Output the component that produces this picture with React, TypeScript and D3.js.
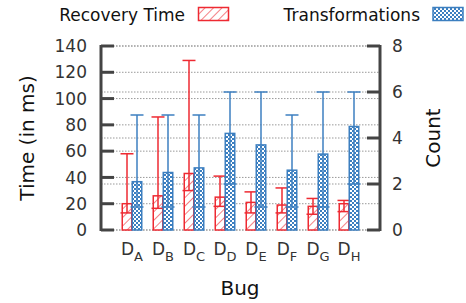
import React from "react";
import * as d3 from "d3";

const bugs = ["A", "B", "C", "D", "E", "F", "G", "H"];
// recovery time (ms): mean, low, high
const recMean = [20, 26, 43, 25, 21, 19, 18, 20];
const recLow = [13, 16.5, 30, 18, 13, 13, 12, 14];
const recHigh = [58, 86, 129, 41, 29, 32, 24, 22.5];
// transformations (count): mean, low, high
const trMean = [2.1, 2.5, 2.7, 4.2, 3.7, 2.6, 3.3, 4.5];
const trLow = [1, 1, 1, 2, 1, 1, 1, 2];
const trHigh = [5, 5, 5, 6, 6, 5, 6, 6];
const leftTicks = [0, 20, 40, 60, 80, 100, 120, 140];
const rightTicks = [0, 2, 4, 6, 8];

const RED = "#ee2a32";
const BLUE = "#3c7fc0";
const FONT = "DejaVu Sans, sans-serif";

const App = () => {
  const W = 466;
  const H = 303;
  const left = 101;
  const right = 380;
  const top = 46;
  const bottom = 230;

  const x = d3.scaleLinear().domain([0, bugs.length + 1]).range([left, right]);
  const yL = d3.scaleLinear().domain([0, 140]).range([bottom, top]);
  const yR = d3.scaleLinear().domain([0, 8]).range([bottom, top]);
  const bw = 9.5;
  const cap = 13;

  const bar = (cx, y0, y1, lo, hi, color, fill, key) => (
    <g key={key}>
      <rect x={cx - bw / 2} y={y1} width={bw} height={y0 - y1} fill={fill} stroke={color} strokeWidth={1.5} />
      <line x1={cx} x2={cx} y1={lo} y2={hi} stroke={color} strokeWidth={1.5} />
      <line x1={cx - cap / 2} x2={cx + cap / 2} y1={hi} y2={hi} stroke={color} strokeWidth={1.5} />
      <line x1={cx - cap / 2} x2={cx + cap / 2} y1={lo} y2={lo} stroke={color} strokeWidth={1.5} />
    </g>
  );

  return (
    <svg width={W} height={H} style={{ position: "absolute", left: 0, top: 0 }} fontFamily={FONT}>
      <defs>
        <pattern id="hatch" patternUnits="userSpaceOnUse" width={6} height={6} patternTransform="rotate(45)">
          <rect width={6} height={6} fill="white" />
          <line x1={0} y1={0} x2={0} y2={6} stroke={RED} strokeWidth={1.2} />
        </pattern>
        <pattern id="cross" patternUnits="userSpaceOnUse" width={4} height={4}>
          <rect width={4} height={4} fill={BLUE} />
          <rect x={0} y={0} width={2} height={2} fill="white" />
          <rect x={2} y={2} width={2} height={2} fill="white" />
        </pattern>
      </defs>
      <rect width={W} height={H} fill="white" />

      {/* grid */}
      {leftTicks.map(t => (
        <line key={"gl" + t} x1={left} x2={right} y1={yL(t)} y2={yL(t)} stroke="#999" strokeWidth={1} strokeDasharray="1.5,1.5" />
      ))}
      {rightTicks.map(t => (
        <line key={"gr" + t} x1={left} x2={right} y1={yR(t)} y2={yR(t)} stroke="#999" strokeWidth={1} strokeDasharray="1.5,1.5" />
      ))}

      {/* bars */}
      {bugs.map((b, i) => {
        const c = x(i + 1);
        return (
          <g key={b}>
            {bar(c - 5, yL(0), yL(recMean[i]), yL(recLow[i]), yL(recHigh[i]), RED, "url(#hatch)", "r")}
            {bar(c + 5, yR(0), yR(trMean[i]), yR(trLow[i]), yR(trHigh[i]), BLUE, "url(#cross)", "t")}
          </g>
        );
      })}

      {/* axes */}
      <line x1={left} x2={left} y1={top - 1} y2={bottom + 1} stroke="#444" strokeWidth={3} />
      <line x1={right} x2={right} y1={top - 1} y2={bottom + 1} stroke="#444" strokeWidth={3} />
      {leftTicks.map(t => (
        <g key={"lt" + t}>
          <line x1={left} x2={left + 13} y1={yL(t)} y2={yL(t)} stroke="#444" strokeWidth={3} />
          <text x={87} y={yL(t)} dy="0.36em" textAnchor="end" fontSize={17} fill="#333">{t}</text>
        </g>
      ))}
      {rightTicks.map(t => (
        <g key={"rt" + t}>
          <line x1={right - 13} x2={right} y1={yR(t)} y2={yR(t)} stroke="#444" strokeWidth={3} />
          <text x={392} y={yR(t)} dy="0.36em" textAnchor="start" fontSize={17} fill="#333">{t}</text>
        </g>
      ))}
      {bugs.map((b, i) => (
        <text key={"xl" + b} x={x(i + 1)} y={255} textAnchor="middle" fontSize={17} fill="#333">
          D<tspan fontSize={13} dy={6}>{b}</tspan>
        </text>
      ))}

      {/* axis titles */}
      <text transform="translate(34,138) rotate(-90)" textAnchor="middle" fontSize={20} fill="#111">Time (in ms)</text>
      <text transform="translate(440,138) rotate(-90)" textAnchor="middle" fontSize={20} fill="#111">Count</text>
      <text x={240} y={295} textAnchor="middle" fontSize={20} fill="#111">Bug</text>

      {/* legend */}
      <text x={185} y={21} textAnchor="end" fontSize={17} fill="#111">Recovery Time</text>
      <rect x={198.5} y={7.5} width={30} height={13} fill="url(#hatch)" stroke={RED} strokeWidth={1.5} />
      <text x={420} y={21} textAnchor="end" fontSize={17} fill="#111">Transformations</text>
      <rect x={433} y={7.5} width={30} height={13} fill="url(#cross)" stroke={BLUE} strokeWidth={1.5} />
    </svg>
  );
};

export default App;
